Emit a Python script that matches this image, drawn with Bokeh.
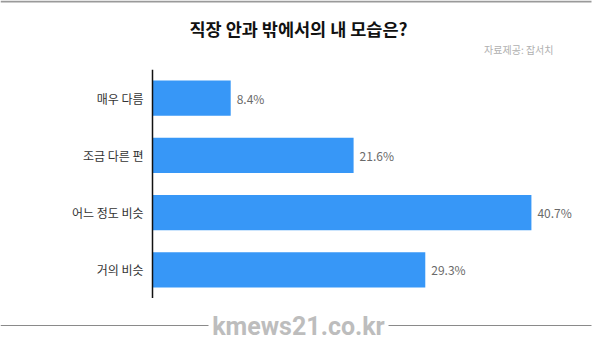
from bokeh.plotting import figure
from bokeh.layouts import column
from bokeh.models import ColumnDataSource, LabelSet, Range1d, Span
from bokeh.core.properties import value
from bokeh.embed import file_html
from bokeh.resources import INLINE

title_text = "직장 안과 밖에서의 내 모습은?"
source_text = "자료제공: 잡서치"
watermark_text = "kmews21.co.kr"
categories = ["매우 다름", "조금 다른 편", "어느 정도 비슷", "거의 비슷"]
values = [8.4, 21.6, 40.7, 29.3]
value_labels = ["8.4%", "21.6%", "40.7%", "29.3%"]

FONT = "Noto Sans CJK KR"
W = 600
TOP_H, MAIN_H, BOT_H = 69, 229, 45
AXIS_PX = 152        # pixel position of the value axis
PX_PER_UNIT = 9.31   # horizontal scale (pixels per percentage point)


def bare(fig):
    fig.outline_line_color = None
    fig.background_fill_color = "white"
    fig.border_fill_color = "white"
    fig.grid.visible = False
    fig.axis.visible = False
    return fig


# ---- header strip (title, source, top rule) ----
top = bare(figure(width=W, height=TOP_H, output_backend="svg", toolbar_location=None,
                  x_range=Range1d(0, W), y_range=Range1d(TOP_H, 0),
                  min_border=0))
top.segment(x0=[0], y0=[1], x1=[591], y1=[1], line_color="#9a9a9a", line_width=2)
top.text(x=[298], y=[28], text=[title_text], text_font=value(FONT),
         text_font_size="17.5px", text_font_style="bold", text_color="#111111",
         text_align="center", text_baseline="middle")
top.text(x=[553], y=[49], text=[source_text], text_font=value(FONT),
         text_font_size="10px", text_color="#b0b0b0",
         text_align="right", text_baseline="middle")

# ---- main bar chart ----
src = ColumnDataSource(dict(cat=categories, val=values, lab=value_labels))

p = bare(figure(width=W, height=MAIN_H, output_backend="svg", toolbar_location=None,
                y_range=list(reversed(categories)),
                x_range=Range1d(-AXIS_PX / PX_PER_UNIT, (W - AXIS_PX) / PX_PER_UNIT),
                min_border=0))
p.y_range.range_padding = 0

p.hbar(y="cat", right="val", left=0, height=0.62, source=src,
       fill_color="#3797f7", line_color=None)

# value labels
p.add_layout(LabelSet(x="val", y="cat", text="lab", source=src, x_offset=6,
                      text_align="left", text_baseline="middle",
                      text_font_size="12px", text_color="#6a6a6a",
                      text_font=value(FONT)))
# category labels, placed through the categorical scale
p.add_layout(LabelSet(x=0, y="cat", text="cat", source=src, x_offset=-9,
                      text_align="right", text_baseline="middle",
                      text_font_size="12px", text_color="#333333",
                      text_font=value(FONT)))
# value axis line
p.add_layout(Span(location=0, dimension="height", line_color="#111111",
                  line_width=1.5))

# ---- footer strip (rule and watermark) ----
bot = bare(figure(width=W, height=BOT_H, output_backend="svg", toolbar_location=None,
                  x_range=Range1d(0, W), y_range=Range1d(BOT_H, 0),
                  min_border=0))
bot.segment(x0=[0, 388], y0=[27, 27], x1=[208, 591], y1=[27, 27],
            line_color="#8a8a8a", line_width=1)
bot.text(x=[298], y=[28], text=[watermark_text],
         text_font=value("Roboto"), text_font_size="25px",
         text_font_style="bold", text_color="#bdbdbd",
         text_align="center", text_baseline="middle")

layout = column(top, p, bot, spacing=0)
out = file_html(layout, INLINE)
open("out.html", "w").write(out)
